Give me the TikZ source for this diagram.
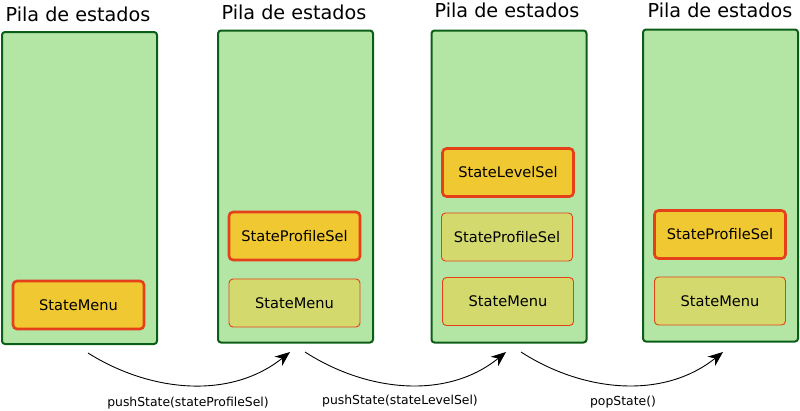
\documentclass[tikz,border=0pt]{standalone}
\usepackage{fontspec}
\setmainfont{DejaVu Sans}
\usetikzlibrary{arrows.meta}
\definecolor{stackfill}{HTML}{B3E6A5}
\definecolor{stackline}{HTML}{0B5E17}
\definecolor{actfill}{HTML}{F0C832}
\definecolor{stline}{HTML}{E5401A}
\definecolor{inactfill}{HTML}{D4D96E}
\begin{document}
\begin{tikzpicture}[x=1pt,y=-1pt,
  stack/.style={draw=stackline,fill=stackfill,line width=2pt,rounded corners=3pt,minimum width=155pt,minimum height=312pt,inner sep=0pt},
  title/.style={font=\fontsize{19.2}{22}\selectfont,inner sep=0pt},
  active/.style={draw=stline,fill=actfill,line width=2.6pt,rounded corners=4pt,minimum width=131pt,minimum height=48pt,inner sep=0pt,font=\fontsize{14.6}{17}\selectfont},
  inactive/.style={draw=stline,fill=inactfill,line width=0.9pt,rounded corners=4pt,minimum width=131pt,minimum height=48pt,inner sep=0pt,font=\fontsize{14.6}{17}\selectfont},
  lab/.style={font=\fontsize{12.4}{14}\selectfont,inner sep=0pt},
  conn/.style={draw=black,line width=0.9pt,-{Stealth[length=15pt,width=12pt]}}]
\useasboundingbox (0,0) rectangle (800,410);
% stacks
\node[stack] (s1) at (79.5,188) {};
\node[stack] (s2) at (295.5,186.5) {};
\node[stack] (s3) at (509,186.5) {};
\node[stack] (s4) at (720.5,185.5) {};
% titles
\node[title] (t1) at (78,14) {Pila de estados};
\node[title] (t2) at (294,12) {Pila de estados};
\node[title] (t3) at (507,10) {Pila de estados};
\node[title] (t4) at (720,10) {Pila de estados};
% states
\node[active] (a1) at (78.5,305) {StateMenu};
\node[active] (a2) at (294.5,236) {StateProfileSel};
\node[inactive] (b2) at (294.5,303) {StateMenu};
\node[active] (a3) at (508,172.5) {StateLevelSel};
\node[inactive] (b3) at (507,237) {StateProfileSel};
\node[inactive] (c3) at (508,301.5) {StateMenu};
\node[active] (a4) at (720,234.5) {StateProfileSel};
\node[inactive] (b4) at (720,301) {StateMenu};
% connector ends
\coordinate (p1s) at (88,353);
\coordinate (p1e) at (290,352);
\coordinate (p2s) at (305,352);
\coordinate (p2e) at (506,352);
\coordinate (p3s) at (521,352);
\coordinate (p3e) at (723,352);
\draw[conn] (p1s) .. controls (150,392) and (230,400) .. (p1e);
\draw[conn] (p2s) .. controls (367,392) and (447,400) .. (p2e);
\draw[conn] (p3s) .. controls (583,392) and (663,400) .. (p3e);
% labels
\node[lab] (l1) at (188,403) {pushState(stateProfileSel)};
\node[lab] (l2) at (400,401) {pushState(stateLevelSel)};
\node[lab] (l3) at (623,402) {popState()};
\end{tikzpicture}
\end{document}
